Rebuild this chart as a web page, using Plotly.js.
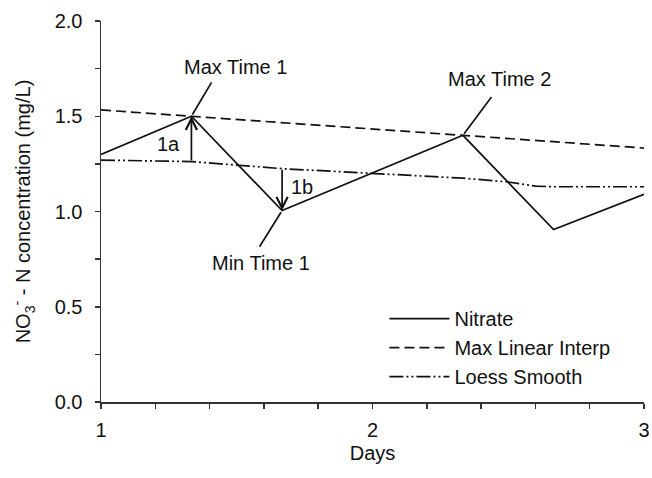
<!DOCTYPE html>
<html>
<head>
<meta charset="utf-8">
<script src="https://cdn.plot.ly/plotly-3.0.1.min.js"></script>
<style>html,body{margin:0;padding:0;background:#fff;}#chart{width:652px;height:478px;}</style>
</head>
<body>
<div id="chart"></div>
<script>
// ---- data ----
var nitrateDays = [1, 1.333, 1.667, 2.333, 2.667, 3];
var nitrateConc = [1.30, 1.50, 1.005, 1.40, 0.905, 1.09];

var maxInterpDays = [1, 1.333, 2.333, 3];
var maxInterpConc = [1.533, 1.50, 1.40, 1.333];

var loessDays = [1, 1.333, 1.667, 2, 2.333, 2.5, 2.6, 2.667, 3];
var loessConc = [1.27, 1.262, 1.225, 1.20, 1.175, 1.155, 1.133, 1.13, 1.13];

var seriesNames = ['Nitrate', 'Max Linear Interp', 'Loess Smooth'];

// annotation labels and anchor points (data units)
var labelTexts = ['Max Time 1', 'Max Time 2', 'Min Time 1', '1a', '1b'];
var labelX = [1.494, 2.466, 1.589, 1.25, 1.74];
var labelY = [1.761, 1.693, 0.732, 1.352, 1.131];

// leader lines: head (point) -> tail (towards label)
var leaderHeadX = [1.333, 2.333, 1.667];
var leaderHeadY = [1.50, 1.40, 1.005];
var leaderTailX = [1.409, 2.440, 1.582];
var leaderTailY = [1.682, 1.604, 0.811];

// difference arrows: from smooth to nitrate
var diffHeadX = [1.333, 1.667];
var diffHeadY = [1.50, 1.005];
var diffTailX = [1.333, 1.667];
var diffTailY = [1.262, 1.225];

var FONT = 'Liberation Sans, Arial, sans-serif';
var INK = '#111111';
var LW = 1.7;

var traces = [
  {x: nitrateDays, y: nitrateConc, name: seriesNames[0], mode: 'lines',
   line: {color: INK, width: LW, dash: 'solid'}},
  {x: maxInterpDays, y: maxInterpConc, name: seriesNames[1], mode: 'lines',
   line: {color: INK, width: LW, dash: '10px,5px'}},
  {x: loessDays, y: loessConc, name: seriesNames[2], mode: 'lines',
   line: {color: INK, width: LW, dash: '14px,3px,2px,3px,2px,3px'}}
];

var annotations = [];
labelTexts.forEach(function(t, i) {
  annotations.push({x: labelX[i], y: labelY[i], xref: 'x', yref: 'y', text: t,
    showarrow: false, font: {family: FONT, size: 20, color: INK}});
});
leaderHeadX.forEach(function(hx, i) {
  annotations.push({x: hx, y: leaderHeadY[i], ax: leaderTailX[i], ay: leaderTailY[i],
    xref: 'x', yref: 'y', axref: 'x', ayref: 'y', text: ' ', font: {size: 1},
    showarrow: true, arrowhead: 0, arrowwidth: LW, arrowcolor: INK, standoff: 2, borderpad: 0});
});
diffHeadX.forEach(function(hx, i) {
  annotations.push({x: hx, y: diffHeadY[i], ax: diffTailX[i], ay: diffTailY[i],
    xref: 'x', yref: 'y', axref: 'x', ayref: 'y', text: ' ', font: {size: 1},
    showarrow: true, arrowhead: 5, arrowsize: 1.3, arrowwidth: LW, arrowcolor: INK, borderpad: 0});
});

var axisCommon = {
  showline: true, linecolor: '#333333', linewidth: 1.5,
  ticks: 'outside', ticklen: 5, tickwidth: 1.5, tickcolor: '#333333',
  showgrid: false, zeroline: false, fixedrange: true,
  tickfont: {family: FONT, size: 20, color: INK}
};

var layout = {
  width: 652, height: 478,
  margin: {l: 101, r: 8, t: 21, b: 76},
  paper_bgcolor: '#ffffff', plot_bgcolor: '#ffffff',
  font: {family: FONT, size: 20, color: INK},
  showlegend: true,
  legend: {x: 0.522, y: 0.27, xanchor: 'left', yanchor: 'top',
    bgcolor: 'rgba(0,0,0,0)', borderwidth: 0, itemwidth: 60,
    font: {family: FONT, size: 20, color: INK}, tracegroupgap: 0},
  xaxis: Object.assign({}, axisCommon, {
    range: [1, 3], tick0: 1, dtick: 1, ticklabelstandoff: 4,
    minor: {dtick: 0.2, tick0: 1, ticks: 'outside', ticklen: 5, tickwidth: 1.5, tickcolor: '#333333'},
    title: {text: 'Days', font: {family: FONT, size: 20, color: INK}, standoff: 6}
  }),
  yaxis: Object.assign({}, axisCommon, {
    range: [0, 2], tick0: 0, dtick: 0.5, tickformat: '.1f', ticklabelstandoff: 8,
    minor: {dtick: 0.25, tick0: 0, ticks: 'outside', ticklen: 5, tickwidth: 1.5, tickcolor: '#333333'},
    title: {text: 'NO<sub>3</sub><sup>-</sup> - N concentration (mg/L)', font: {family: FONT, size: 20, color: INK}, standoff: 18}
  }),
  annotations: annotations
};

Plotly.newPlot('chart', traces, layout, {displayModeBar: false, staticPlot: true});
</script>
</body>
</html>
